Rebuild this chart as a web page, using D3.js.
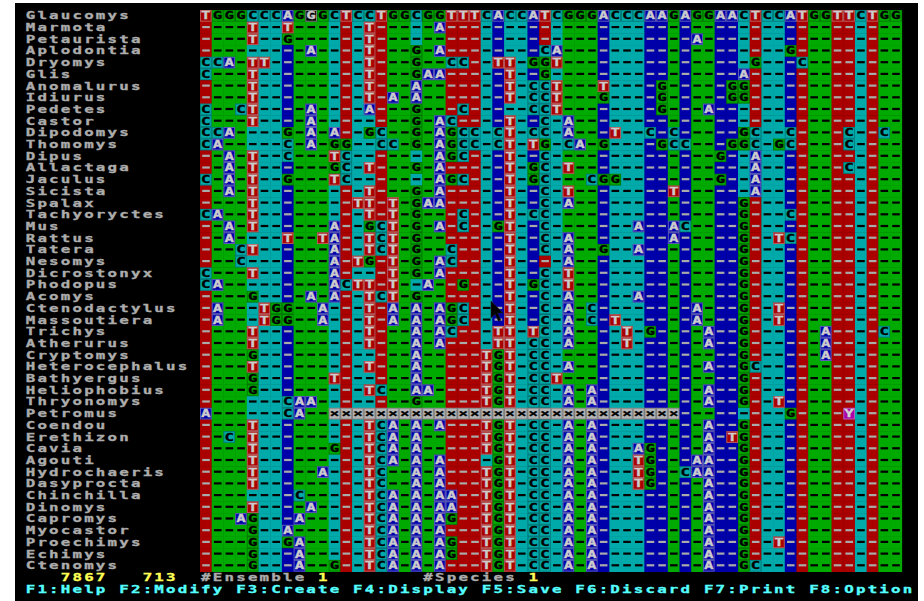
<!DOCTYPE html>
<html>
<head>
<meta charset="utf-8">
<script src="https://cdn.jsdelivr.net/npm/d3@7"></script>
<style>
  html, body { margin: 0; padding: 0; background: #ffffff; }
  svg { display: block; }
</style>
</head>
<body>
<svg id="screen" width="924" height="601"></svg>
<script>
// Species shown down the left margin, one per alignment row.
const species = [
  "Glaucomys","Marmota","Petaurista","Aplodontia","Dryomys","Glis","Anomalurus","Idiurus",
  "Pedetes","Castor","Dipodomys","Thomomys","Dipus","Allactaga","Jaculus","Sicista",
  "Spalax","Tachyoryctes","Mus","Rattus","Tatera","Nesomys","Dicrostonyx","Phodopus",
  "Acomys","Ctenodactylus","Massoutiera","Trichys","Atherurus","Cryptomys","Heterocephalus","Bathyergus",
  "Heliophobius","Thryonomys","Petromus","Coendou","Erethizon","Cavia","Agouti","Hydrochaeris",
  "Dasyprocta","Chinchilla","Dinomys","Capromys","Myocastor","Proechimys","Echimys","Ctenomys"
];

// Aligned sites, 60 per row. '-' = same base as the first (reference) row,
// 'x' = masked site, other letters = the base actually observed.
const sequences = [
  "TGGGCCCAGGGCTCCTGGCG" + "GTTTCACCATCGGGACCCAA" + "GAGGAACTCCATGGTTCTGG",
  "----T--T------T-----" + "A-------------------" + "--------------------",
  "----T--G------T-----" + "--------------------" + "--A-----------------",
  "---------A----T---G-" + "A--------CA---------" + "----------G---------",
  "CCA-TT--------T---G-" + "-CC--TT-GGT---------" + "-------G---C--------",
  "C---T---------T---GA" + "A-----T--G----------" + "------A-------------",
  "----T---------T---A-" + "------T-CCT---T----G" + "-----GG-------------",
  "----T---------T-A-A-" + "------T-CCT---G----G" + "-----GG-------------",
  "C--CT----A----A---G-" + "--C-----CCT--------G" + "---A----------------",
  "C---T----A--------G-" + "AC----T--C-A--------" + "--------------------",
  "CCA----G-A-A--GC--G-" + "AGCC-CT-CC-A---T--C-" + "C-----GC--C----C--C-",
  "CA-----C-A-GG--CC-G-" + "AGCC-CT-TG-CA-G----G" + "CC---GGC-GC----C----",
  "--A-T--C---TC-------" + "AGC---T--C----------" + "----G--A------------",
  "--A-T------GC-T---G-" + "A-----T-GC-T--------" + "-------A-------C----",
  "C-A-T--G---TC-------" + "AGC---T-GC---CGG----" + "----G--A------------",
  "--A-T---------T---G-" + "A-----T--C-T--------" + "T------A------------",
  "----T--------TT-T-GA" + "A-----T--C-A--------" + "------G-------------",
  "CA--T---------T-T-G-" + "--C---T-CC----------" + "------G---C---------",
  "--A-T------A--GCT-G-" + "A-C--GT--C-------A--" + "AC----G-------------",
  "--A----T--TA--TCT-G-" + "------T--C-A--------" + "A-----G--TC---------",
  "---CT------A--TCT-G-" + "-C----T--C-A--G--A--" + "------G-------------",
  "---C-------A-TG-T-G-" + "AC----T----A--------" + "------G-------------",
  "C---T------A----T-G-" + "A-----T--C-T--------" + "------G-------------",
  "CA---------ACTT-T--A" + "--G---T-GC-T--------" + "------G-------------",
  "----G----A-A--TCT-G-" + "------T--C-A-----A--" + "------G-------------",
  "-A---TGG--A---T-A-A-" + "AGC---T--C-A-C------" + "--A---G--T----------",
  "-A---TGG--A---T-A-A-" + "AGC---T--C-A-C-T----" + "--A---G--T----------",
  "----T---------T---A-" + "AC---TT-TC-A----T-G-" + "---A--G------A----C-",
  "----T---------T---A-" + "A----TT-CC-A----T---" + "---A--G------A------",
  "----G-------------A-" + "----TGT-CC----------" + "------G------A------",
  "----T---------T---A-" + "----TGT-CC-A--------" + "---A--GC------------",
  "----G------T------A-" + "----TGT-CCT---------" + "------G-------------",
  "----G---------TC--AA----TG" + "T-CC-A-A---------A--G-------------",
  "-------CAA--------G-----TG" + "T-CC-A-A---------A--G--T----------",
  "A------CA--" + "xxxxxxxxxxxxxxxxxxxxxxxxxxxxxx" + "---------G----Y----",
  "----T---------TCA-A-A---TG" + "T-CC-A-A---------A--G-------------",
  "--C-T---------TCA-A-----TG" + "T-CC-A-A---------A-TG-------------",
  "----T------G--TCA-A-----TG" + "T-CC-A-A---AG----A--G-------------",
  "----T---------TCA-A-A----G" + "T-CC-A-A---TG---AA--G-------------",
  "----T-----A---TC--A-A---TG" + "T-CC-A-A---TG--CAA--G-------------",
  "----T---------TC--A-A---TG" + "T-CC-A-A---TG----A--G-------------",
  "--------C-----TCA-A-AA--TG" + "T-CC-A-A---------A--G-------------",
  "----T----A----TCA-A-AA--TG" + "T-CC-A-A---------A--G-------------",
  "---AG---A-----TCA-A-AG--TG" + "T-CC-A-A---------A--G-------------",
  "----G--A------TCA-A-A---TG" + "T-CC-A-A---------A--G-------------",
  "----G--GA-----TCA-A-AG--TG" + "T-CC-A-A---------A--G--T----------",
  "----G---A-----TCA-A-AG--TG" + "T-CC-A-A---------A--G-------------",
  "----G---A--G--TCA-A-A---TG" + "T-CC-A-A---------A--GC------------"
];

// Editor cursor position (row, site).
const cursorRow = 0, cursorSite = 9;

// Status bar contents.
const counters = ["7867", "713"];
const counterCols = [3, 10];
const statusFields = [
  { label: "#Ensemble", labelCol: 15, value: "1", valueCol: 25 },
  { label: "#Species",  labelCol: 34, value: "1", valueCol: 43 }
];
const functionKeys = ["F1:Help","F2:Modify","F3:Create","F4:Display","F5:Save","F6:Discard","F7:Print","F8:Option"];

// ---- text-mode geometry -------------------------------------------------
const CW = 11.695;           // character cell width
const CH = 11.7;             // character cell height
const screenLeft = 24.6;     // x of text column 0
const screenTop = 10;        // y of text row 0
const nSites = 60;
const firstSiteCol = 15;     // alignment starts at text column 15

// glyphs: 10px DejaVu Sans Mono Bold, widened to fill the cell
const FONT = "'DejaVu Sans Mono', 'Liberation Mono', monospace";
const FS = 10;
const ADV = 0.602 * FS;      // natural advance of one glyph
const SX = 1.58;             // horizontal widening
const BASE = 9.32;           // baseline offset inside a cell
const LS = CW / SX - ADV;    // letter spacing that keeps one glyph per cell

const svg = d3.select("#screen");

const colX = d3.scaleLinear().domain([0, 1]).range([screenLeft, screenLeft + CW]);
const rowY = d3.scaleLinear().domain([0, 1]).range([screenTop, screenTop + CH]);

const x = d3.scaleBand()
  .domain(d3.range(nSites))
  .range([colX(firstSiteCol), colX(firstSiteCol + nSites)])
  .paddingInner(0).paddingOuter(0);
const y = d3.scaleBand()
  .domain(d3.range(species.length))
  .range([rowY(0), rowY(species.length)])
  .paddingInner(0).paddingOuter(0);

const baseFill = d3.scaleOrdinal()
  .domain(["A", "C", "G", "T", "Y", "x"])
  .range(["#0000aa", "#00aaaa", "#00aa00", "#aa0000", "#aa00aa", "#b4b4b4"]);
const baseInk = d3.scaleOrdinal()
  .domain(["A", "C", "G", "T", "Y", "x"])
  .range(["#cccccc", "#000000", "#000000", "#cccccc", "#d0d0d0", "#000000"]);

// screen background
svg.append("rect").attr("x", 0).attr("y", 0).attr("width", 924).attr("height", 601).attr("fill", "#ffffff");
svg.append("rect").attr("x", 15).attr("y", 3).attr("width", 903).attr("height", 598).attr("fill", "#000000");

const reference = sequences[0];
const cells = [];
sequences.forEach((seq, r) => {
  for (let c = 0; c < nSites; c++) {
    const ch = seq[c];
    const isMatch = (ch === "-");
    cells.push({
      r, c, ch,
      shown: isMatch ? reference[c] : ch,
      isMatch,
      isCursor: r === cursorRow && c === cursorSite
    });
  }
});

const grid = svg.append("g").attr("class", "alignment");

// cell backgrounds
grid.selectAll("rect.bg").data(cells).join("rect")
  .attr("class", "bg")
  .attr("x", d => x(d.c))
  .attr("y", d => y(d.r))
  .attr("width", x.bandwidth() + 0.4)
  .attr("height", y.bandwidth() + 0.4)
  .attr("fill", d => d.isCursor ? "#000000" : baseFill(d.shown));

// thin frame round each written base
grid.selectAll("rect.frame").data(cells.filter(d => !d.isMatch)).join("rect")
  .attr("class", "frame")
  .attr("x", d => x(d.c) + 0.5)
  .attr("y", d => y(d.r) + 0.5)
  .attr("width", x.bandwidth() - 1)
  .attr("height", y.bandwidth() - 1)
  .attr("fill", "none")
  .attr("stroke", d => d.isCursor ? "#808080"
    : (d.ch === "C" || d.ch === "G" || d.ch === "x" ? "rgba(0,0,0,0.25)" : "rgba(200,200,200,0.45)"))
  .attr("stroke-width", 1);

// match marks
grid.selectAll("rect.dash").data(cells.filter(d => d.isMatch)).join("rect")
  .attr("class", "dash")
  .attr("x", d => x(d.c) + 2.2)
  .attr("y", d => y(d.r) + 4.3)
  .attr("width", 7.6)
  .attr("height", 2.2)
  .attr("fill", d => baseInk(d.shown) === "#000000" ? "#000000" : "#aaaaaa");

// written bases
grid.selectAll("text.base").data(cells.filter(d => !d.isMatch)).join("text")
  .attr("class", "base")
  .attr("transform", d => `translate(${x(d.c) + x.bandwidth() / 2},${y(d.r) + BASE}) scale(${SX},1)`)
  .attr("text-anchor", "middle")
  .attr("font-family", FONT)
  .attr("font-weight", "bold")
  .attr("font-size", FS + "px")
  .attr("fill", d => d.isCursor ? "#cccccc" : baseInk(d.ch))
  .attr("stroke", d => d.isCursor ? "#cccccc" : baseInk(d.ch))
  .attr("stroke-width", 0.3)
  .text(d => d.ch === "x" ? "\u00d7" : d.ch);

// a run of text-mode characters starting at (col, row)
function putText(g, str, col, row, fill) {
  g.append("text")
    .attr("transform", `translate(${colX(col) + (CW - ADV * SX) / 2},${rowY(row) + BASE}) scale(${SX},1)`)
    .attr("font-family", FONT)
    .attr("font-weight", "bold")
    .attr("font-size", FS + "px")
    .attr("letter-spacing", LS.toFixed(3))
    .attr("fill", fill)
    .attr("stroke", fill)
    .attr("stroke-width", 0.3)
    .attr("xml:space", "preserve")
    .text(str);
}

// species names
const names = svg.append("g").attr("class", "names");
species.forEach((s, i) => putText(names, s, 0, i, "#acacac"));

// status line
const statusRow = species.length;
const status = svg.append("g").attr("class", "status");
counters.forEach((s, i) => putText(status, s, counterCols[i], statusRow, "#ffff55"));
statusFields.forEach(f => {
  putText(status, f.label, f.labelCol, statusRow, "#acacac");
  putText(status, f.value, f.valueCol, statusRow, "#ffff55");
});
putText(status, functionKeys.join(" "), 0, statusRow + 1, "#55ffff");

// mouse pointer
const pointer = [[0,0],[0,17],[4.2,13],[7.4,20.2],[9.8,19.2],[6.6,12],[12,12]];
svg.append("path")
  .attr("d", d3.line()(pointer) + "Z")
  .attr("transform", "translate(491,301)")
  .attr("fill", "#000000")
  .attr("stroke", "#222222")
  .attr("stroke-width", 0.6);
</script>
</body>
</html>
